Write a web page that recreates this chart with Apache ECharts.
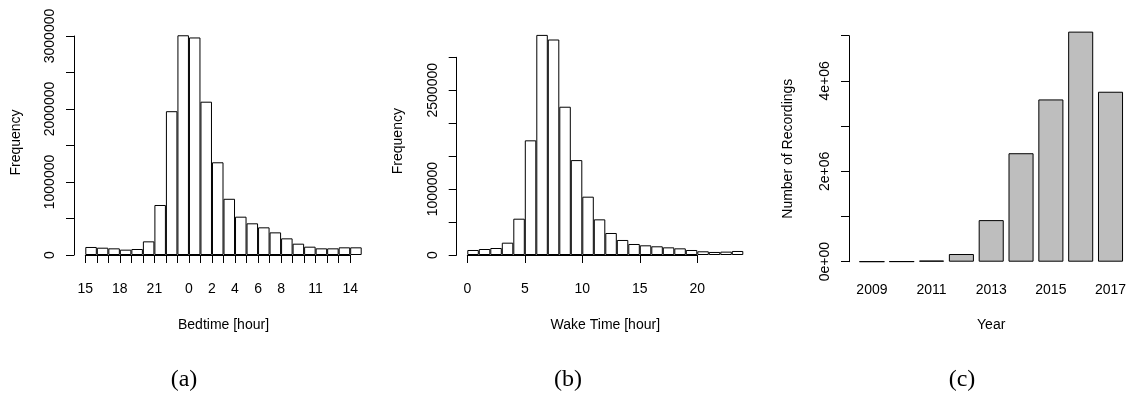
<!DOCTYPE html>
<html>
<head>
<meta charset="utf-8">
<script src="https://cdn.jsdelivr.net/npm/echarts@6/dist/echarts.min.js"></script>
<style>
  html, body { margin: 0; padding: 0; background: #fff; }
  #chart { width: 1129px; height: 400px; }
</style>
</head>
<body>
<div id="chart"></div>
<script>
// (a) bedtime histogram: one bin per hour, starting at 15:00
const bedBins = [15, 16, 17, 18, 19, 20, 21, 22, 23, 0, 1, 2, 3, 4, 5, 6, 7, 8, 9, 10, 11, 12, 13, 14];
const bedCounts = [110000, 100000, 91000, 73000, 82000, 187000, 685000, 1970000, 3010000, 2980000,
  2100000, 1270000, 770000, 525000, 434000, 379000, 310000, 228000, 155000, 114000,
  91000, 91000, 105000, 105000];
const bedTickLabels = ['15', '', '', '18', '', '', '21', '', '', '0', '', '2', '', '4', '', '6', '', '8', '', '', '11', '', '', '14'];
const bedYLabels = [0, 1000000, 2000000, 3000000];

// (b) wake time histogram, 0..24 h
const wakeBins = [0, 1, 2, 3, 4, 5, 6, 7, 8, 9, 10, 11, 12, 13, 14, 15, 16, 17, 18, 19, 20, 21, 22, 23];
const wakeCounts = [76000, 91000, 106000, 187000, 551000, 1740000, 3340000, 3270000, 2250000, 1440000,
  885000, 541000, 334000, 228000, 167000, 147000, 132000, 116000, 101000, 76000,
  56000, 46000, 51000, 61000];
const wakeTicks = [0, 5, 10, 15, 20];
const wakeYLabels = [0, 1000000, 2500000];

// (c) recordings per year
const years = ['2009', '2010', '2011', '2012', '2013', '2014', '2015', '2016', '2017'];
const recordings = [2000, 5000, 25000, 170000, 920000, 2400000, 3590000, 5090000, 3760000];
const recYTicks = [0, 2000000, 4000000];
const recYLabels = ['0e+00', '2e+06', '4e+06'];

// panel captions
const captions = ['(a)', '(b)', '(c)'];
const captionX = [184, 568, 962];

const FONT = '"Liberation Sans", Arial, Helvetica, sans-serif';
const INK = '#000';
const txt = { color: INK, fontFamily: FONT, fontSize: 14 };

function yAxisCommon(max, interval, offset, formatter, name, gap, pad) {
  return {
    type: 'value', min: 0, max: max, interval: interval, offset: offset,
    axisLine: { show: true, lineStyle: { color: INK, width: 1 } },
    axisTick: { show: true, length: 8, lineStyle: { color: INK, width: 1 } },
    axisLabel: Object.assign({ rotate: 90, margin: 17, formatter: formatter, showMinLabel: true, showMaxLabel: true }, txt),
    splitLine: { show: false },
    name: name, nameLocation: 'middle', nameGap: gap,
    nameTextStyle: Object.assign({ padding: pad || 0 }, txt)
  };
}

const hidden = { show: false };

const option = {
  animation: false,
  backgroundColor: '#fff',
  grid: [
    // (a) bars, (a) tick axis
    { left: 85.3, top: 36, width: 276.4, height: 219 },
    { left: 85.3, top: 245, width: 276.4 * 23 / 24, height: 10 },
    // (b) bars, (b) tick axis
    { left: 467.3, top: 57.3, width: 276, height: 197.7 },
    { left: 467.3, top: 245, width: 276 * 20 / 24, height: 10 },
    // (c) bars
    { left: 857, top: 35.7, width: 270, height: 226 }
  ],
  xAxis: [
    {
      gridIndex: 0, type: 'category', data: bedBins.map(String),
      axisLine: hidden, axisTick: hidden, axisLabel: hidden,
      name: 'Bedtime [hour]', nameLocation: 'middle', nameGap: 63, nameTextStyle: txt
    },
    {
      gridIndex: 1, type: 'value', min: 0, max: 23, interval: 1, offset: 8.3,
      axisLine: { show: true, lineStyle: { color: INK, width: 1 } },
      axisTick: { show: true, length: 8, lineStyle: { color: INK, width: 1 } },
      axisLabel: Object.assign({ margin: 19, formatter: (v) => bedTickLabels[Math.round(v)] || '' }, txt),
      splitLine: hidden
    },
    {
      gridIndex: 2, type: 'category', data: wakeBins.map(String),
      axisLine: hidden, axisTick: hidden, axisLabel: hidden,
      name: 'Wake Time [hour]', nameLocation: 'middle', nameGap: 63, nameTextStyle: txt
    },
    {
      gridIndex: 3, type: 'value', min: 0, max: 20, interval: 5, offset: 8.3,
      axisLine: { show: true, lineStyle: { color: INK, width: 1 } },
      axisTick: { show: true, length: 8, lineStyle: { color: INK, width: 1 } },
      axisLabel: Object.assign({ margin: 19, formatter: (v) => wakeTicks.includes(v) ? String(v) : '' }, txt),
      splitLine: hidden
    },
    {
      gridIndex: 4, type: 'category', data: years,
      axisLine: hidden, axisTick: hidden,
      axisLabel: Object.assign({ interval: 1, margin: 21 }, txt),
      name: 'Year', nameLocation: 'middle', nameGap: 56, nameTextStyle: txt
    }
  ],
  yAxis: [
    yAxisCommon(3000000, 500000, 11.3, (v) => bedYLabels.includes(v) ? String(v) : '', 'Frequency', 50.5, [0, 0, 0, 6]),
    { gridIndex: 1, type: 'value', show: false },
    Object.assign(yAxisCommon(3000000, 500000, 10.6, (v) => wakeYLabels.includes(v) ? String(v) : '', 'Frequency', 52, [0, 0, 0, 30]), { gridIndex: 2 }),
    { gridIndex: 3, type: 'value', show: false },
    Object.assign(yAxisCommon(5000000, 1000000, 8, (v) => {
      const i = recYTicks.indexOf(v);
      return i >= 0 ? recYLabels[i] : '';
    }, 'Number of Recordings', 54), { gridIndex: 4 })
  ],
  series: [
    {
      type: 'bar', xAxisIndex: 0, yAxisIndex: 0, data: bedCounts,
      barCategoryGap: '0%', clip: false, silent: true,
      itemStyle: { color: '#fff', borderColor: INK, borderWidth: 1 }
    },
    {
      type: 'bar', xAxisIndex: 2, yAxisIndex: 2, data: wakeCounts,
      barCategoryGap: '0%', clip: false, silent: true,
      itemStyle: { color: '#fff', borderColor: INK, borderWidth: 1 }
    },
    {
      type: 'bar', xAxisIndex: 4, yAxisIndex: 4, data: recordings,
      barCategoryGap: '16%', clip: false, silent: true,
      itemStyle: { color: '#BEBEBE', borderColor: INK, borderWidth: 1 }
    }
  ],
  graphic: captions.map((c, i) => ({
    type: 'text', x: captionX[i], y: 380,
    style: { text: c, fill: INK, font: '24px "Liberation Serif", "DejaVu Serif", serif', textAlign: 'center', textVerticalAlign: 'middle' }
  }))
};

const chart = echarts.init(document.getElementById('chart'), null, { renderer: 'canvas' });
chart.setOption(option);
</script>
</body>
</html>
